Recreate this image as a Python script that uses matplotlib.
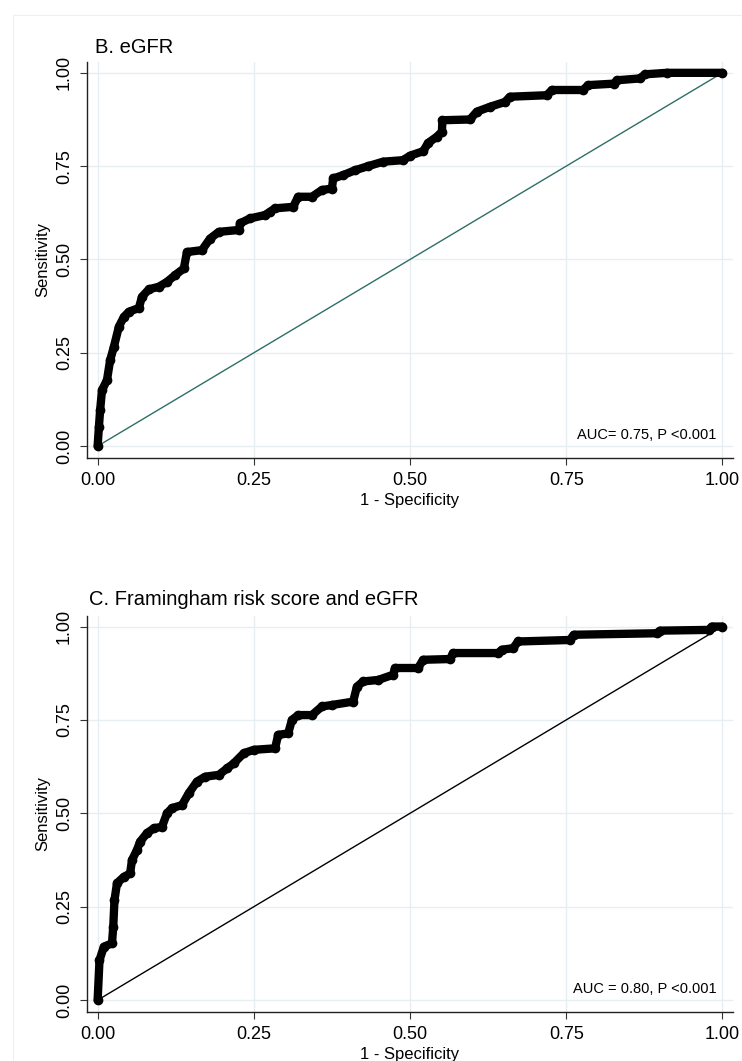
import matplotlib
matplotlib.use('Agg')
import matplotlib.pyplot as plt
from matplotlib.lines import Line2D
from matplotlib.ticker import FormatStrFormatter

plt.rcParams['font.family'] = ['Liberation Sans', 'DejaVu Sans']

# ROC curve vertices (1 - specificity, sensitivity)
fpr_b = [0.0, 0.002, 0.004, 0.007, 0.015, 0.020, 0.026, 0.034, 0.042, 0.050, 0.066,
         0.071, 0.082, 0.098, 0.111, 0.124, 0.138, 0.143, 0.167, 0.180, 0.194, 0.226,
         0.228, 0.244, 0.268, 0.276, 0.284, 0.313, 0.321, 0.343, 0.359, 0.375, 0.377,
         0.393, 0.412, 0.433, 0.457, 0.489, 0.500, 0.521, 0.529, 0.543, 0.551, 0.552,
         0.596, 0.607, 0.628, 0.652, 0.660, 0.719, 0.727, 0.777, 0.785, 0.826, 0.831,
         0.868, 0.876, 0.911, 1.0]
tpr_b = [0.0, 0.05, 0.096, 0.150, 0.177, 0.230, 0.266, 0.320, 0.346, 0.360, 0.370,
         0.400, 0.420, 0.427, 0.440, 0.458, 0.476, 0.520, 0.525, 0.556, 0.574, 0.579,
         0.597, 0.610, 0.619, 0.628, 0.637, 0.641, 0.668, 0.668, 0.686, 0.690, 0.717,
         0.726, 0.739, 0.750, 0.762, 0.766, 0.778, 0.790, 0.812, 0.829, 0.842, 0.873,
         0.875, 0.896, 0.909, 0.922, 0.936, 0.940, 0.954, 0.954, 0.967, 0.971, 0.980,
         0.985, 0.996, 1.0, 1.0]

fpr_c = [0.0, 0.003, 0.010, 0.023, 0.025, 0.027, 0.031, 0.042, 0.052, 0.055, 0.063,
         0.068, 0.079, 0.090, 0.103, 0.111, 0.119, 0.135, 0.146, 0.159, 0.172, 0.194,
         0.207, 0.218, 0.234, 0.250, 0.284, 0.289, 0.305, 0.311, 0.321, 0.343, 0.359,
         0.375, 0.409, 0.415, 0.425, 0.449, 0.473, 0.476, 0.513, 0.521, 0.564, 0.569,
         0.641, 0.647, 0.665, 0.673, 0.756, 0.762, 0.895, 0.900, 0.978, 0.983, 1.0]
tpr_c = [0.0, 0.107, 0.143, 0.152, 0.196, 0.268, 0.313, 0.330, 0.339, 0.375, 0.402,
         0.424, 0.447, 0.460, 0.464, 0.500, 0.514, 0.522, 0.554, 0.585, 0.598, 0.603,
         0.620, 0.634, 0.661, 0.670, 0.674, 0.710, 0.714, 0.750, 0.763, 0.763, 0.786,
         0.790, 0.799, 0.839, 0.853, 0.857, 0.871, 0.889, 0.889, 0.911, 0.913, 0.929,
         0.929, 0.938, 0.942, 0.960, 0.964, 0.978, 0.982, 0.989, 0.991, 1.0, 1.0]

ref_line = [0.0, 1.0]
ticks = [0.0, 0.25, 0.5, 0.75, 1.0]

W, H = 742, 1061
fig = plt.figure(figsize=(W / 100, H / 100), dpi=100)
fig.patch.set_facecolor('white')

# faint outer frame of the graph region
fig.add_artist(Line2D([13 / W, 13 / W], [0, 1 - 15 / H], color='#EFEFEF', lw=0.8))
fig.add_artist(Line2D([13 / W, 1], [1 - 15 / H, 1 - 15 / H], color='#EFEFEF', lw=0.8))


def draw_panel(ax, fpr, tpr, diag_color, auc_text):
    ax.set_xlim(-0.017, 1.017)
    ax.set_ylim(-0.031, 1.029)
    ax.set_xticks(ticks)
    ax.set_yticks(ticks)
    ax.xaxis.set_major_formatter(FormatStrFormatter('%.2f'))
    ax.yaxis.set_major_formatter(FormatStrFormatter('%.2f'))
    ax.grid(True, color='#E6EEF1', lw=1.0)
    ax.set_axisbelow(True)
    for s in ['top', 'right']:
        ax.spines[s].set_visible(False)
    for s in ['left', 'bottom']:
        ax.spines[s].set_color('#222222')
        ax.spines[s].set_linewidth(1.0)
    ax.tick_params(direction='out', length=5, width=0.8, color='#333333',
                   labelsize=13, pad=5)
    ax.tick_params(axis='y', labelrotation=90)
    for lbl in ax.get_yticklabels():
        lbl.set_va('center')

    # reference diagonal
    ax.plot(ref_line, ref_line, color=diag_color, lw=1.0, zorder=2)
    # ROC curve (connected circles, drawn thick)
    ax.plot(fpr, tpr, color='black', lw=6, marker='o', ms=6,
            solid_joinstyle='round', solid_capstyle='round', zorder=3, clip_on=False)

    ax.set_xlabel('1 - Specificity', fontsize=12, labelpad=3)
    ax.set_ylabel('Sensitivity', fontsize=12, labelpad=4)
    ax.text(0.99, 0.02, auc_text, ha='right', va='baseline', fontsize=10.5)


left = 87 / W
width = (733 - 87) / W

ax1 = fig.add_axes([left, 1 - 457.7 / H, width, (457.7 - 62) / H])
draw_panel(ax1, fpr_b, tpr_b, '#2E6F66', 'AUC= 0.75, P <0.001')
fig.text(95 / W, 1 - 53 / H, 'B. eGFR', fontsize=14.5, va='baseline')

ax2 = fig.add_axes([left, 1 - 1011.7 / H, width, (1011.7 - 615.7) / H])
draw_panel(ax2, fpr_c, tpr_c, 'black', 'AUC = 0.80, P <0.001')
fig.text(89 / W, 1 - 605 / H, 'C. Framingham risk score and eGFR', fontsize=14.5, va='baseline')

fig.savefig('out.png', dpi=100)
